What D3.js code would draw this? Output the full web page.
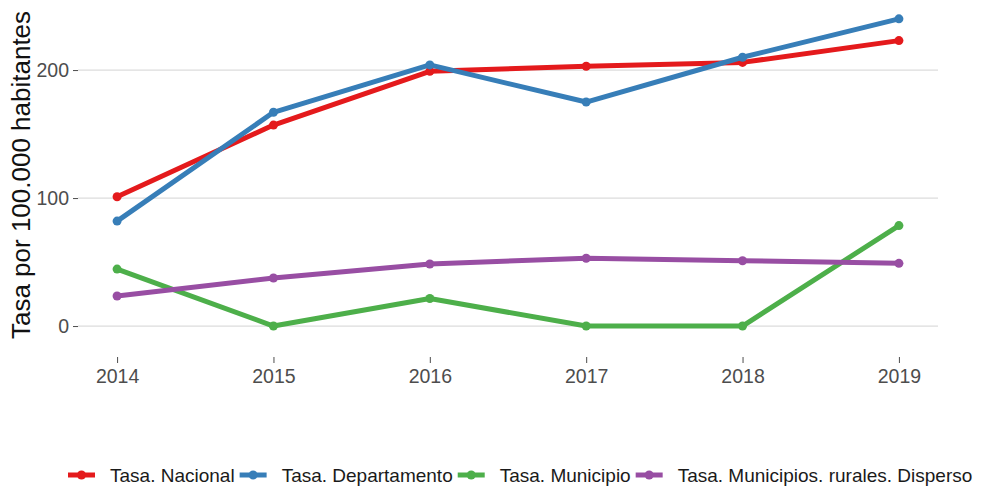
<!DOCTYPE html>
<html><head><meta charset="utf-8">
<script src="https://cdn.jsdelivr.net/npm/d3@7"></script>
<style>body{margin:0;background:#fff}svg{display:block}text{font-family:"Liberation Sans",Arial,sans-serif}</style>
</head><body><svg id="c" width="982" height="489"></svg>
<script>
const years = [2014, 2015, 2016, 2017, 2018, 2019];
const nacional = [101, 157, 199, 203, 206, 223];
const departamento = [82, 167, 204, 175, 210, 240];
const municipio = [44.5, 0, 21.5, 0, 0, 78.5];
const disperso = [23.5, 37.5, 48.5, 53, 51, 49];
const seriesNames = ["Tasa. Nacional", "Tasa. Departamento", "Tasa. Municipio", "Tasa. Municipios. rurales. Disperso"];
const seriesColors = ["#e41a1c", "#377eb8", "#4daf4a", "#984ea3"];
const yTicks = [0, 100, 200];
const yTitle = "Tasa por 100.000 habitantes";

const series = [nacional, departamento, municipio, disperso].map((v, i) => ({name: seriesNames[i], color: seriesColors[i], values: v}));
const svg = d3.select("#c");
const x = d3.scaleLinear().domain([2013.75, 2019.25]).range([78, 938]);
const y = d3.scaleLinear().domain([-12, 252]).range([341.4, 3.5]);

// gridlines
svg.append("g").selectAll("line").data(yTicks).join("line")
  .attr("x1", x(2013.75)).attr("x2", x(2019.25))
  .attr("y1", d => y(d)).attr("y2", d => y(d))
  .attr("stroke", "#dcdcdc").attr("stroke-width", 1.2);

// y axis
const ya = svg.append("g").attr("transform", "translate(78,0)")
  .call(d3.axisLeft(y).tickValues(yTicks).tickSize(5).tickPadding(4));
ya.select(".domain").remove();
ya.selectAll("line").attr("stroke", "#4d4d4d");
ya.selectAll("text").attr("font-size", 19.5).attr("fill", "#4d4d4d").attr("font-family", "Liberation Sans, Arial, sans-serif");

// x axis
const xa = svg.append("g").attr("transform", "translate(0,357)")
  .call(d3.axisBottom(x).tickValues(years).tickFormat(d3.format("d")).tickSize(-6).tickPadding(26));
xa.select(".domain").remove();
xa.selectAll("line").attr("stroke", "#4d4d4d").attr("transform", "translate(0,6)");
xa.selectAll("text").attr("font-size", 19.5).attr("fill", "#4d4d4d").attr("font-family", "Liberation Sans, Arial, sans-serif").attr("dy", "0");

// y title
svg.append("text").attr("transform", "translate(30,175) rotate(-90)")
  .attr("text-anchor", "middle").attr("font-size", 26).attr("fill", "#111")
  .text(yTitle);

// lines
const line = d3.line().x((d, i) => x(years[i])).y(d => y(d));
const g = svg.append("g");
series.forEach(s => {
  g.append("path").datum(s.values).attr("d", line).attr("fill", "none")
    .attr("stroke", s.color).attr("stroke-width", 5).attr("stroke-linejoin", "round");
  g.selectAll(null).data(s.values).join("circle")
    .attr("cx", (d, i) => x(years[i])).attr("cy", d => y(d)).attr("r", 4.5).attr("fill", s.color);
});

// legend
const lg = svg.append("g");
let lx = 68;
const ly = 475;
series.forEach(s => {
  lg.append("line").attr("x1", lx).attr("x2", lx + 27).attr("y1", ly).attr("y2", ly)
    .attr("stroke", s.color).attr("stroke-width", 5);
  lg.append("circle").attr("cx", lx + 13.5).attr("cy", ly).attr("r", 4.5).attr("fill", s.color);
  const t = lg.append("text").attr("x", lx + 42).attr("y", ly + 7).attr("font-size", 19).attr("fill", "#1a1a1a").text(s.name);
  lx = lx + 42 + t.node().getComputedTextLength() + 5;
});
</script></body></html>
